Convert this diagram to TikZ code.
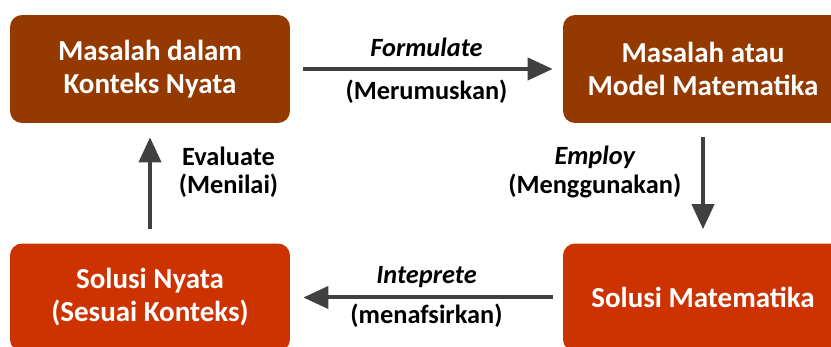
\documentclass[tikz,border=0pt]{standalone}
\usepackage{fontspec}
\setmainfont{Carlito}
\usetikzlibrary{positioning,arrows.meta}

\definecolor{boxtop}{HTML}{943A00}
\definecolor{boxbot}{HTML}{CC3300}
\definecolor{arrowgray}{HTML}{404040}

\begin{document}
\begin{tikzpicture}[x=0.02cm, y=-0.02cm,
    box/.style ={rectangle, rounded corners=0.24cm, text=white, align=center,
      minimum width=5.6cm, minimum height=2.16cm,
      font=\bfseries\fontsize{16.5}{18.8}\selectfont},
    flow/.style={draw=arrowgray, line width=0.08cm,
      -{Triangle[length=0.5cm,width=0.44cm]}},
    lab/.style ={align=center, text=black,
      font=\bfseries\fontsize{15}{16.5}\selectfont}
    ]
\useasboundingbox (0,0) rectangle (831,347);
\clip (0,0) rectangle (831,347);

\node[box, fill=boxtop] (real)  at (150,69)    {Masalah dalam\\Konteks Nyata};
\node[box, fill=boxtop] (model) at (703,69)    {Masalah atau\\Model Matematika};
\node[box, fill=boxbot] (math)  at (703,297.5) {Solusi Matematika};
\node[box, fill=boxbot] (sol)   at (150,297.5) {Solusi Nyata\\(Sesuai Konteks)};

% cycle
\draw[flow, shorten <=0.26cm, shorten >=0.2cm] (real) -- (model)
  node[lab, midway, yshift=0.44cm] (formulate) {\itshape Formulate}
  node[lab, midway, yshift=-0.46cm] (merumuskan) {(Merumuskan)};
\draw[flow, shorten <=0.28cm, shorten >=0.28cm] (model) -- (math)
  node[lab, midway, left=0.28cm, yshift=0.22cm] (employ) {\itshape Employ\\(Menggunakan)};
\draw[flow, shorten <=0.2cm, shorten >=0.26cm] (math) -- (sol)
  node[lab, midway, yshift=0.4cm] (inteprete) {\itshape Inteprete}
  node[lab, midway, yshift=-0.36cm] (menafsirkan) {(menafsirkan)};
\draw[flow, shorten <=0.28cm, shorten >=0.28cm] (sol) -- (real)
  node[lab, midway, right=0.42cm, yshift=0.22cm] (evaluate) {Evaluate\\(Menilai)};
\end{tikzpicture}
\end{document}
